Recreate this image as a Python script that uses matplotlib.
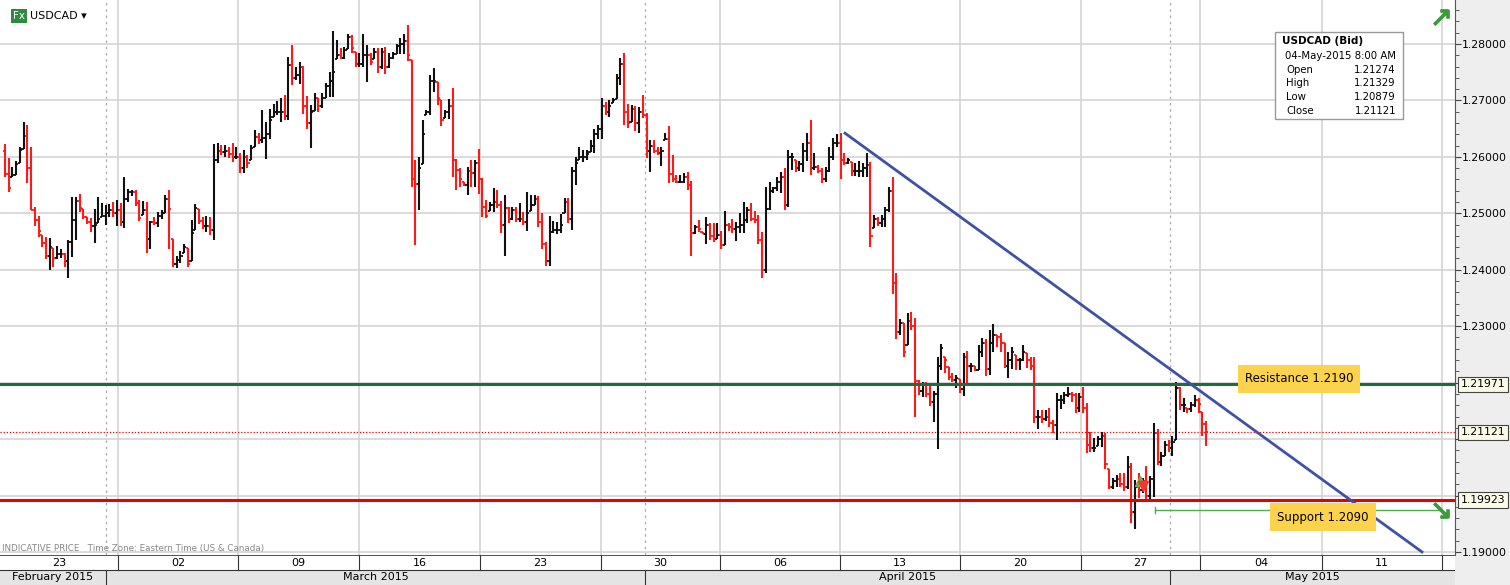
import numpy as np
import matplotlib
matplotlib.use("Agg")
import matplotlib.pyplot as plt

# ---------------- data (4-hour USDCAD bars) ----------------
highs = [1.2623,1.2598,1.2582,1.2593,1.2618,1.2662,1.2656,1.2618,1.2511,1.2495,1.2462,1.2458,1.2456,1.2439,1.2442,1.2437,1.2430,1.2453,1.2529,1.2529,
 1.2534,1.2508,1.2493,1.2492,1.2508,1.2529,1.2518,1.2515,1.2516,1.2520,1.2524,1.2518,1.2564,1.2543,1.2541,1.2541,1.2524,1.2522,1.2520,1.2486,
 1.2493,1.2502,1.2506,1.2532,1.2541,1.2454,1.2424,1.2433,1.2446,1.2439,1.2488,1.2516,1.2508,1.2493,1.2495,1.2493,1.2623,1.2625,1.2621,1.2621,
 1.2618,1.2625,1.2618,1.2607,1.2612,1.2603,1.2621,1.2648,1.2642,1.2683,1.2662,1.2685,1.2694,1.2699,1.2704,1.2710,1.2777,1.2798,1.2759,1.2768,
 1.2761,1.2708,1.2692,1.2713,1.2704,1.2713,1.2731,1.2750,1.2823,1.2807,1.2793,1.2795,1.2818,1.2816,1.2786,1.2784,1.2818,1.2798,1.2784,1.2793,
 1.2793,1.2793,1.2795,1.2784,1.2786,1.2800,1.2811,1.2818,1.2834,1.2772,1.2594,1.2600,1.2665,1.2683,1.2745,1.2757,1.2733,1.2701,1.2683,1.2703,
 1.2722,1.2596,1.2580,1.2555,1.2582,1.2594,1.2594,1.2614,1.2563,1.2524,1.2520,1.2545,1.2541,1.2522,1.2532,1.2511,1.2511,1.2511,1.2518,1.2502,
 1.2538,1.2532,1.2532,1.2531,1.2501,1.2449,1.2495,1.2486,1.2485,1.2499,1.2527,1.2527,1.2582,1.2600,1.2618,1.2612,1.2612,1.2630,1.2649,1.2656,
 1.2704,1.2697,1.2701,1.2704,1.2747,1.2775,1.2784,1.2694,1.2692,1.2690,1.2688,1.2710,1.2678,1.2630,1.2630,1.2618,1.2618,1.2642,1.2655,1.2603,
 1.2568,1.2568,1.2571,1.2573,1.2557,1.2479,1.2488,1.2467,1.2493,1.2483,1.2483,1.2483,1.2469,1.2504,1.2483,1.2490,1.2485,1.2501,1.2520,1.2511,
 1.2518,1.2504,1.2497,1.2467,1.2547,1.2555,1.2547,1.2564,1.2573,1.2580,1.2612,1.2607,1.2594,1.2593,1.2625,1.2642,1.2665,1.2607,1.2586,1.2580,
 1.2582,1.2618,1.2633,1.2641,1.2642,1.2607,1.2598,1.2591,1.2589,1.2593,1.2589,1.2607,1.2591,1.2497,1.2493,1.2497,1.2511,1.2547,1.2564,1.2394,
 1.2313,1.2306,1.2323,1.2325,1.2314,1.2205,1.2201,1.2201,1.2196,1.2185,1.2245,1.2268,1.2245,1.2228,1.2217,1.2213,1.2206,1.2252,1.2256,1.2235,
 1.2229,1.2267,1.2279,1.2277,1.2293,1.2304,1.2284,1.2288,1.2270,1.2254,1.2263,1.2249,1.2244,1.2267,1.2252,1.2245,1.2245,1.2151,1.2151,1.2151,
 1.2155,1.2134,1.2182,1.2178,1.2183,1.2192,1.2183,1.2182,1.2182,1.2192,1.2164,1.2112,1.2102,1.2105,1.2112,1.2111,1.2047,1.2031,1.2036,1.2040,
 1.2040,1.2070,1.2058,1.2027,1.2040,1.2031,1.2052,1.2034,1.2128,1.2118,1.2077,1.2097,1.2098,1.2105,1.2201,1.2192,1.2173,1.2155,1.2166,1.2178,
 1.2173,1.2148,1.21329]
lows = [1.2564,1.2538,1.2564,1.2568,1.2589,1.2614,1.2554,1.2506,1.2478,1.2458,1.2440,1.2419,1.2400,1.2405,1.2419,1.2421,1.2405,1.2385,1.2423,1.2453,
 1.2502,1.2490,1.2481,1.2467,1.2447,1.2483,1.2493,1.2479,1.2493,1.2493,1.2478,1.2478,1.2474,1.2520,1.2531,1.2513,1.2486,1.2497,1.2430,1.2437,
 1.2479,1.2476,1.2490,1.2501,1.2437,1.2405,1.2403,1.2412,1.2430,1.2405,1.2415,1.2470,1.2481,1.2472,1.2467,1.2462,1.2453,1.2589,1.2603,1.2600,
 1.2598,1.2591,1.2596,1.2571,1.2571,1.2580,1.2594,1.2618,1.2623,1.2625,1.2596,1.2632,1.2671,1.2674,1.2662,1.2665,1.2665,1.2727,1.2736,1.2729,
 1.2676,1.2649,1.2616,1.2681,1.2680,1.2687,1.2704,1.2706,1.2706,1.2773,1.2773,1.2773,1.2791,1.2784,1.2759,1.2759,1.2759,1.2733,1.2763,1.2773,
 1.2749,1.2756,1.2747,1.2757,1.2773,1.2782,1.2782,1.2782,1.2770,1.2547,1.2444,1.2506,1.2587,1.2674,1.2674,1.2715,1.2692,1.2655,1.2669,1.2667,
 1.2564,1.2541,1.2547,1.2548,1.2532,1.2547,1.2547,1.2534,1.2493,1.2492,1.2504,1.2502,1.2509,1.2465,1.2424,1.2483,1.2488,1.2485,1.2485,1.2479,
 1.2469,1.2504,1.2515,1.2476,1.2437,1.2407,1.2407,1.2465,1.2463,1.2465,1.2501,1.2483,1.2470,1.2550,1.2594,1.2591,1.2594,1.2609,1.2607,1.2632,
 1.2632,1.2674,1.2671,1.2695,1.2703,1.2727,1.2656,1.2651,1.2662,1.2646,1.2642,1.2669,1.2598,1.2573,1.2607,1.2603,1.2584,1.2630,1.2554,1.2555,
 1.2554,1.2554,1.2554,1.2541,1.2424,1.2463,1.2467,1.2463,1.2446,1.2453,1.2449,1.2454,1.2437,1.2444,1.2469,1.2465,1.2451,1.2465,1.2465,1.2483,
 1.2486,1.2483,1.2446,1.2385,1.2394,1.2506,1.2536,1.2540,1.2536,1.2506,1.2511,1.2577,1.2573,1.2575,1.2573,1.2593,1.2568,1.2577,1.2571,1.2554,
 1.2555,1.2573,1.2594,1.2618,1.2561,1.2586,1.2587,1.2566,1.2566,1.2564,1.2564,1.2564,1.2440,1.2474,1.2478,1.2476,1.2476,1.2502,1.2357,1.2277,
 1.2284,1.2245,1.2267,1.2293,1.2139,1.2178,1.2174,1.2174,1.2159,1.2130,1.2082,1.2222,1.2217,1.2205,1.2201,1.2190,1.2182,1.2176,1.2196,1.2219,
 1.2221,1.2222,1.2245,1.2212,1.2213,1.2254,1.2263,1.2254,1.2226,1.2208,1.2224,1.2222,1.2222,1.2238,1.2226,1.2222,1.2128,1.2118,1.2128,1.2132,
 1.2121,1.2111,1.2098,1.2153,1.2162,1.2174,1.2166,1.2146,1.2148,1.2146,1.2075,1.2077,1.2077,1.2088,1.2086,1.2047,1.2011,1.2011,1.2015,1.2015,
 1.2008,1.2011,1.1951,1.1941,1.1996,1.2004,1.1994,1.1994,1.1997,1.2054,1.2052,1.2070,1.2077,1.2070,1.2098,1.2151,1.2148,1.2146,1.2148,1.2157,
 1.2146,1.2105,1.20879]
closes = [1.2570,1.2545,1.2568,1.2588,1.2613,1.2637,1.2580,1.2505,1.2488,1.2468,1.2447,1.2425,1.2440,1.2420,1.2428,1.2428,1.2415,1.2450,1.2488,1.2522,
 1.2509,1.2493,1.2485,1.2478,1.2480,1.2490,1.2496,1.2500,1.2505,1.2500,1.2505,1.2485,1.2525,1.2538,1.2538,1.2518,1.2492,1.2505,1.2454,1.2485,
 1.2482,1.2495,1.2500,1.2525,1.2508,1.2410,1.2418,1.2425,1.2440,1.2410,1.2465,1.2510,1.2487,1.2478,1.2478,1.2470,1.2594,1.2610,1.2608,1.2610,
 1.2605,1.2600,1.2600,1.2580,1.2600,1.2590,1.2615,1.2635,1.2630,1.2633,1.2640,1.2665,1.2680,1.2680,1.2680,1.2672,1.2763,1.2740,1.2745,1.2760,
 1.2690,1.2660,1.2680,1.2705,1.2690,1.2705,1.2725,1.2735,1.2750,1.2780,1.2776,1.2790,1.2812,1.2793,1.2765,1.2765,1.2780,1.2780,1.2768,1.2785,
 1.2760,1.2785,1.2760,1.2775,1.2782,1.2796,1.2800,1.2805,1.2780,1.2560,1.2552,1.2580,1.2640,1.2680,1.2735,1.2735,1.2705,1.2665,1.2680,1.2690,
 1.2594,1.2577,1.2560,1.2550,1.2575,1.2571,1.2590,1.2560,1.2512,1.2495,1.2515,1.2520,1.2515,1.2480,1.2509,1.2490,1.2505,1.2490,1.2490,1.2484,
 1.2500,1.2515,1.2525,1.2485,1.2445,1.2415,1.2467,1.2470,1.2470,1.2480,1.2520,1.2490,1.2575,1.2590,1.2600,1.2600,1.2605,1.2620,1.2640,1.2650,
 1.2690,1.2680,1.2690,1.2700,1.2740,1.2765,1.2680,1.2660,1.2685,1.2660,1.2680,1.2674,1.2610,1.2620,1.2610,1.2607,1.2610,1.2632,1.2570,1.2560,
 1.2556,1.2556,1.2565,1.2550,1.2465,1.2475,1.2472,1.2464,1.2480,1.2460,1.2455,1.2462,1.2443,1.2480,1.2475,1.2472,1.2475,1.2480,1.2488,1.2505,
 1.2490,1.2488,1.2453,1.2400,1.2508,1.2540,1.2545,1.2555,1.2565,1.2515,1.2600,1.2600,1.2580,1.2588,1.2610,1.2625,1.2580,1.2582,1.2575,1.2560,
 1.2575,1.2600,1.2625,1.2625,1.2595,1.2590,1.2595,1.2575,1.2575,1.2575,1.2580,1.2585,1.2460,1.2490,1.2482,1.2490,1.2505,1.2540,1.2376,1.2290,
 1.2305,1.2255,1.2310,1.2300,1.2203,1.2185,1.2195,1.2180,1.2165,1.2180,1.2230,1.2262,1.2240,1.2210,1.2205,1.2208,1.2188,1.2245,1.2230,1.2230,
 1.2223,1.2255,1.2270,1.2225,1.2270,1.2285,1.2280,1.2270,1.2230,1.2240,1.2255,1.2240,1.2240,1.2255,1.2240,1.2230,1.2140,1.2140,1.2135,1.2140,
 1.2128,1.2125,1.2170,1.2170,1.2178,1.2180,1.2178,1.2155,1.2175,1.2155,1.2090,1.2085,1.2085,1.2100,1.2105,1.2055,1.2015,1.2025,1.2030,1.2020,
 1.2015,1.2050,1.1970,1.2015,1.2010,1.2025,1.2000,1.2030,1.2110,1.2060,1.2070,1.2090,1.2085,1.2095,1.2190,1.2160,1.2160,1.2153,1.2160,1.2170,
 1.2162,1.2127,1.21121]
first_open = 1.2610
last_open = 1.21274

week_labels = ["23", "02", "09", "16", "23", "30", "06", "13", "20", "27", "04", "11"]
month_labels = ["February 2015", "March 2015", "April 2015", "May 2015"]
y_ticks = [1.19, 1.20, 1.21, 1.22, 1.23, 1.24, 1.25, 1.26, 1.27, 1.28]
resistance = 1.21971
support = 1.19923
last_price = 1.21121
trend_start = (1.2642, 845)
trend_end = (1.1900, 1422)
support_label = "Support 1.2090"
resistance_label = "Resistance 1.2190"
info_rows = [("Open", "1.21274"), ("High", "1.21329"), ("Low", "1.20879"), ("Close", "1.21121")]

# ---------------- layout ----------------
W, H = 1510, 585
fig = plt.figure(figsize=(W/100, H/100), dpi=100, facecolor="#eeeeee")
plot_r = 1455
plot_b = 30
ax = fig.add_axes([0, plot_b/H, plot_r/W, 1 - plot_b/H])
ax.set_facecolor("white")
ax.set_xlim(0, plot_r)
ytop = 1.28 + 44/5644
ybot = 1.28 - 511/5644
ax.set_ylim(ybot, ytop)

def py(p):
    return 1.28 - (p - 44)/5644

n = len(closes)
xs = 5 + 3.73*np.arange(n)
opens = [first_open] + closes[:-1]
opens[-1] = last_open
opens = np.clip(opens, lows, highs)

# grid
week_px = [118, 238, 359, 480, 601, 720, 840, 960, 1081, 1200, 1322, 1442]
for wx in week_px:
    ax.axvline(wx, color="#d4d4d4", lw=1.2, zorder=0)
for mx in [106, 645, 1170]:
    ax.axvline(mx, color="#aaaaaa", lw=0.9, ls=(0, (2, 3)), zorder=0)
for yt in y_ticks:
    ax.axhline(yt, color="#d4d4d4", lw=1.2, zorder=0)

for i in range(n):
    col = "#ff1a1a" if closes[i] < opens[i] else "#111111"
    ax.vlines(xs[i], lows[i], highs[i], color=col, lw=1.5, zorder=3)
    ax.hlines(opens[i], xs[i]-2.2, xs[i], color=col, lw=1.3, zorder=3)
    ax.hlines(closes[i], xs[i], xs[i]+2.2, color=col, lw=1.3, zorder=3)

# lines
ax.axhline(resistance, color="#1e6b3c", lw=2.2, zorder=4)
ax.axhline(support, color="#e60000", lw=2.2, zorder=4)
ax.axhline(last_price, color="#e60000", lw=0.9, ls=(0, (1, 1.5)), zorder=2)
ax.plot([trend_start[1], trend_end[1]], [trend_start[0], trend_end[0]], color="#3f51a5", lw=2, zorder=5)
sup2 = py(510)
ax.plot([1155, 1440], [sup2, sup2], color="#4caf50", lw=1, zorder=4)
ax.plot([1155, 1155], [sup2-0.0006, sup2+0.0006], color="#4caf50", lw=1, zorder=4)

# labels
ax.text(1299, py(379), resistance_label, ha="center", va="center", fontsize=8.5,
        bbox=dict(boxstyle="square,pad=0.6", fc="#fdd34d", ec="none"), zorder=6)
ax.text(1323, py(517), support_label, ha="center", va="center", fontsize=8.5,
        bbox=dict(boxstyle="square,pad=0.6", fc="#fdd34d", ec="none"), zorder=6)

# markers
ax.plot([1140], [1.2025], marker="^", color="#6ab04c", ms=7, zorder=6)
ax.plot([1143], [1.2017], marker="v", color="#ff3030", ms=7, zorder=6)
ax.plot([1441], [py(17)], marker=r"$\nearrow$", color="#3a9a3a", ms=11, zorder=6)
ax.plot([1441], [py(510)], marker=r"$\searrow$", color="#3a9a3a", ms=11, zorder=6)

# info box
bx0, bx1 = 1275, 1403
ax.add_patch(plt.Rectangle((bx0, py(119)), bx1-bx0, py(32)-py(119),
                           fc="white", ec="#999999", lw=1, zorder=7))
ax.text(1282, py(41), "USDCAD (Bid)", fontsize=7.5, weight="bold", va="center", zorder=8)
ax.text(1285, py(56), "04-May-2015 8:00 AM", fontsize=7.3, va="center", zorder=8)
for k, (lab, val) in enumerate(info_rows):
    yy = py(70 + 13.5*k)
    ax.text(1286, yy, lab, fontsize=7.3, va="center", zorder=8)
    ax.text(1396, yy, val, fontsize=7.3, va="center", ha="right", zorder=8)

# header
ax.text(13, py(16), "Fx", fontsize=7.5, color="white", va="center", zorder=8,
        bbox=dict(boxstyle="square,pad=0.15", fc="#2e8b3e", ec="none"))
ax.text(30, py(16), "USDCAD \u25be", fontsize=8, va="center", zorder=8)
ax.text(2, py(548), "INDICATIVE PRICE   Time Zone: Eastern Time (US & Canada)", fontsize=6.3,
        color="#888888", va="center", zorder=8)

# right axis (labels covered by price boxes are left blank, as in the source)
hidden = {1.20, 1.21, 1.22}
ax.yaxis.tick_right()
ax.set_yticks(y_ticks)
ax.set_yticklabels(["" if v in hidden else f"{v:.5f}" for v in y_ticks], fontsize=7.8)
ax.set_yticks(np.arange(1.19, 1.2875, 0.002), minor=True)
ax.tick_params(axis="y", which="major", length=4, color="#444444", pad=1)
ax.tick_params(axis="y", which="minor", length=3, color="#444444")
ax.set_xticks([])
for s in ["top", "left", "bottom"]:
    ax.spines[s].set_visible(False)
ax.spines["right"].set_color("#555555")

for val in [resistance, last_price, support]:
    ax.annotate(f"{val:.5f}", xy=(1.0, val), xycoords=("axes fraction", "data"), xytext=(4, 0),
                textcoords="offset points", fontsize=7.8, va="center", ha="left",
                bbox=dict(boxstyle="square,pad=0.25", fc="#fbfbe6", ec="#444444", lw=0.8),
                annotation_clip=False, zorder=10)

# bottom date bands
bax = fig.add_axes([0, 0, plot_r/W, plot_b/H])
bax.set_xlim(0, plot_r)
bax.set_ylim(0, 2)
bax.axis("off")
bax.add_patch(plt.Rectangle((0, 1), plot_r, 1, fc="white", ec="none"))
bax.add_patch(plt.Rectangle((0, 0), plot_r, 1, fc="#e4e4e4", ec="none"))
bax.axhline(2, color="#333333", lw=1.2)
bax.axhline(1, color="#333333", lw=0.8)
edges = [0] + week_px + [plot_r]
for wx in week_px:
    bax.plot([wx, wx], [1, 2], color="#333333", lw=0.8)
for k, lab in enumerate(week_labels):
    bax.text((edges[k]+edges[k+1])/2, 1.5, lab, ha="center", va="center", fontsize=8)
med = [0, 106, 645, 1170, plot_r]
for mx in med[1:-1]:
    bax.plot([mx, mx], [0, 1], color="#333333", lw=0.8)
for k, lab in enumerate(month_labels):
    bax.text((med[k]+med[k+1])/2, 0.5, lab, ha="center", va="center", fontsize=8)

fig.savefig("out.png", dpi=100, facecolor=fig.get_facecolor())
